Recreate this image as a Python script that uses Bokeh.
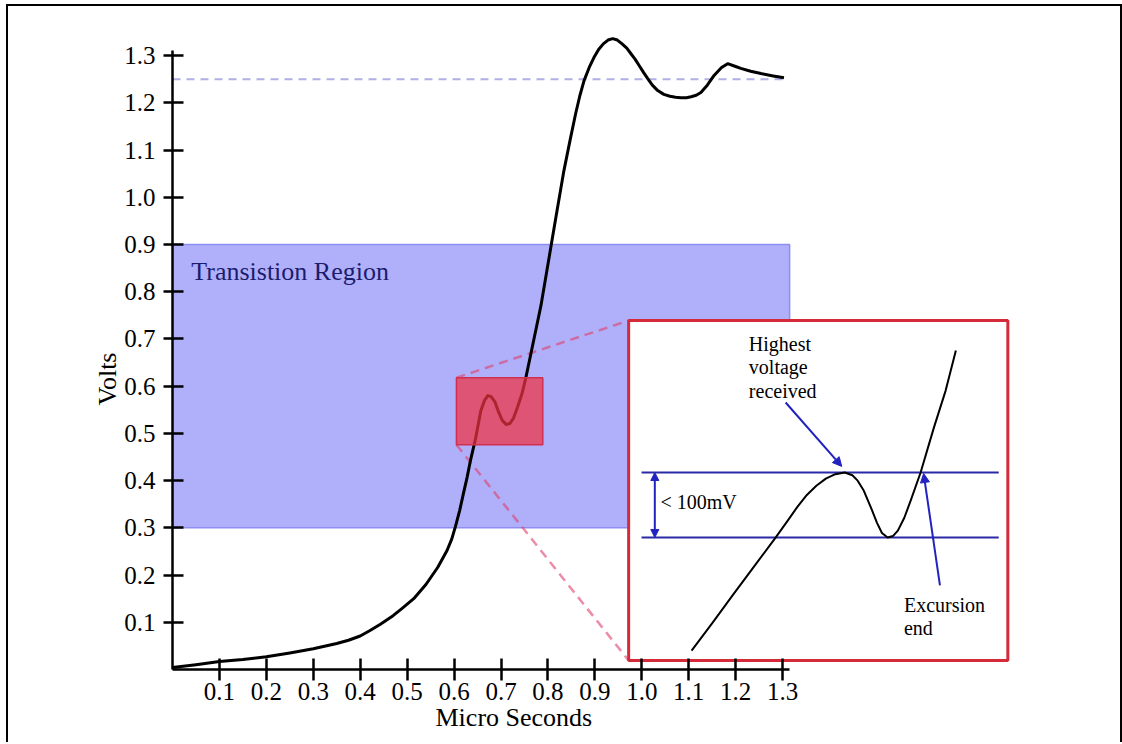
from bokeh.plotting import figure
from bokeh.models import (FixedTicker, NumeralTickFormatter, Arrow, NormalHead,
                          Range1d, Title)
from bokeh.core.properties import value
from bokeh.embed import file_html
from bokeh.resources import INLINE

# ---------------- data ----------------
time_us = [0.0, 0.05, 0.1, 0.15, 0.2, 0.25, 0.3, 0.35, 0.375, 0.4, 0.42, 0.443,
           0.47, 0.49, 0.514, 0.54, 0.565, 0.585, 0.595, 0.603, 0.612, 0.62,
           0.628, 0.635, 0.646, 0.657, 0.665, 0.672, 0.679, 0.687, 0.695, 0.703,
           0.711, 0.719, 0.727, 0.735, 0.745, 0.753, 0.765, 0.785, 0.806, 0.82,
           0.834, 0.847, 0.859, 0.868, 0.877, 0.888, 0.898, 0.908, 0.918, 0.928,
           0.938, 0.948, 0.958, 0.968, 0.977, 0.986, 0.995, 1.004, 1.013, 1.023,
           1.034, 1.047, 1.06, 1.072, 1.083, 1.095, 1.105, 1.116, 1.126, 1.14,
           1.154, 1.17, 1.183, 1.2, 1.211, 1.232, 1.254, 1.28, 1.303]
volts = [0.004, 0.010, 0.017, 0.021, 0.027, 0.035, 0.044, 0.055, 0.062, 0.071,
         0.082, 0.096, 0.114, 0.130, 0.150, 0.180, 0.216, 0.252, 0.276, 0.303,
         0.337, 0.373, 0.408, 0.443, 0.490, 0.548, 0.570, 0.580, 0.578, 0.567,
         0.545, 0.527, 0.519, 0.521, 0.533, 0.555, 0.585, 0.618, 0.675, 0.770,
         0.893, 0.975, 1.056, 1.120, 1.177, 1.215, 1.247, 1.275, 1.296, 1.313,
         1.325, 1.333, 1.336, 1.333, 1.325, 1.316, 1.304, 1.292, 1.278, 1.264,
         1.251, 1.237, 1.226, 1.218, 1.214, 1.212, 1.211, 1.211, 1.213, 1.216,
         1.222, 1.238, 1.258, 1.275, 1.283, 1.277, 1.273, 1.267, 1.262, 1.257,
         1.253]

x_ticks = [0.1, 0.2, 0.3, 0.4, 0.5, 0.6, 0.7, 0.8, 0.9, 1.0, 1.1, 1.2, 1.3]
y_ticks = [0.1, 0.2, 0.3, 0.4, 0.5, 0.6, 0.7, 0.8, 0.9, 1.0, 1.1, 1.2, 1.3]
x_title = "Micro Seconds"
y_title = "Volts"

settle_x = [0.0, 1.30]
settle_v = [1.25, 1.25]

region_x = [0.0, 1.315]
region_v = [0.30, 0.90]
region_label = "Transistion Region"
region_label_pos = (0.04, 0.843)

zoom_x = [0.605, 0.789]
zoom_v = [0.476, 0.618]

inset_x = [0.972, 1.780]
inset_v = [0.019, 0.739]

# inset (magnified sketch) in normalized inset coordinates (0..1 across the panel)
inset_u = [0.166, 0.222, 0.277, 0.333, 0.388, 0.420, 0.445, 0.470, 0.495, 0.520,
           0.545, 0.570, 0.590, 0.604, 0.620, 0.639, 0.655, 0.668, 0.683, 0.697,
           0.710, 0.727, 0.744, 0.770, 0.805, 0.836, 0.863]
inset_w = [0.029, 0.112, 0.196, 0.280, 0.362, 0.412, 0.452, 0.487, 0.514, 0.535,
           0.548, 0.553, 0.545, 0.529, 0.500, 0.450, 0.405, 0.375, 0.362, 0.366,
           0.382, 0.420, 0.471, 0.553, 0.685, 0.794, 0.912]
band_u = [0.034, 0.976]
band_hi = 0.553
band_lo = 0.362
range_arrow_u = 0.069
range_label = "< 100mV"
range_label_pos = (0.084, 0.465)
peak_label = ["Highest", "voltage", "received"]
peak_label_u = 0.317
peak_label_w = [0.932, 0.862, 0.794]
peak_arrow = [(0.414, 0.759), (0.562, 0.571)]
end_label = ["Excursion", "end"]
end_label_u = 0.726
end_label_w = [0.162, 0.097]
end_arrow = [(0.821, 0.221), (0.778, 0.550)]


def ix(u):
    return inset_x[0] + u * (inset_x[1] - inset_x[0])


def iy(w):
    return inset_v[0] + w * (inset_v[1] - inset_v[0])


FONT = "Liberation Serif"

p = figure(width=1112, height=736,
           x_range=Range1d(0, 1.807), y_range=Range1d(0, 1.349),
           output_backend="svg", toolbar_location=None,
           min_border_left=164, min_border_right=100,
           min_border_top=26, min_border_bottom=73)
p.styles = {
    "margin-left": "8px",
    "margin-top": "6px",
    "box-shadow": ("-2px 0 0 0 black, 2px 0 0 0 black, 0 -2px 0 0 black, "
                   "-2px -2px 0 0 black, 2px -2px 0 0 black"),
}
p.grid.visible = False
p.outline_line_color = None
p.background_fill_color = "white"
p.border_fill_color = "white"

for ax, ticks in ((p.xaxis[0], x_ticks), (p.yaxis[0], y_ticks)):
    ax.ticker = FixedTicker(ticks=ticks)
    ax.formatter = NumeralTickFormatter(format="0.0")
    ax.axis_line_width = 2.5
    ax.axis_line_color = "black"
    ax.major_tick_line_width = 2.5
    ax.major_tick_line_color = "black"
    ax.minor_tick_line_color = None
    ax.major_label_text_font = FONT
    ax.major_label_text_font_size = "25px"
    ax.major_label_text_color = "black"

p.xaxis.bounds = (0, 1.315)
p.yaxis.bounds = (0, 1.31)
p.xaxis.major_tick_in = 11
p.xaxis.major_tick_out = 11
p.xaxis.major_label_standoff = 2
p.yaxis.major_tick_in = 11
p.yaxis.major_tick_out = 9
p.yaxis.major_label_standoff = 8

# axis titles (placed in the side panels next to the axes)
p.add_layout(Title(text=x_title, align="left", offset=263, vertical_align="top",
                   standoff=0, text_font=FONT, text_font_size="26px",
                   text_font_style="normal", text_color="black"), "below")
p.add_layout(Title(text=y_title, align="left", offset=264, vertical_align="bottom",
                   standoff=0, text_font=FONT, text_font_size="26px",
                   text_font_style="normal", text_color="black"), "left")

# transition region
p.quad(left=[region_x[0]], right=[region_x[1]], bottom=[region_v[0]], top=[region_v[1]],
       fill_color="#b0b0fa", line_color="#8e8ef2", line_width=1.5)
p.text(x=[region_label_pos[0]], y=[region_label_pos[1]], text=[region_label],
       text_font=value(FONT), text_font_size="26px", text_color="#1c1c6e",
       text_baseline="middle", text_align="left")

# settled level
p.line(settle_x, settle_v, line_color="#b0b0e4", line_width=2, line_dash="8 6")

# connectors from zoom box to inset
p.line([zoom_x[0], inset_x[0]], [zoom_v[1], inset_v[1]], line_color="#e0406a",
       line_alpha=0.6, line_width=2.5, line_dash="9 6")
p.line([zoom_x[0], inset_x[0]], [zoom_v[0], inset_v[0]], line_color="#e0406a",
       line_alpha=0.6, line_width=2.5, line_dash="9 6")

# main trace
p.line(time_us, volts, line_color="black", line_width=3, line_join="round")

# zoom box
p.quad(left=[zoom_x[0]], right=[zoom_x[1]], bottom=[zoom_v[0]], top=[zoom_v[1]],
       fill_color="#f03040", fill_alpha=0.72, line_color="#d03050", line_width=1.5)

# inset panel
p.quad(left=[inset_x[0]], right=[inset_x[1]], bottom=[inset_v[0]], top=[inset_v[1]],
       fill_color="white", line_color="#d42a3a", line_width=3)
for lvl in (band_hi, band_lo):
    p.line([ix(u) for u in band_u], [iy(lvl), iy(lvl)], line_color="#2a2aa8", line_width=2)
p.line([ix(u) for u in inset_u], [iy(w) for w in inset_w], line_color="black",
       line_width=2, line_join="round")

arrow_color = "#2222c0"
p.add_layout(Arrow(x_start=ix(range_arrow_u), y_start=iy(band_lo),
                   x_end=ix(range_arrow_u), y_end=iy(band_hi),
                   start=NormalHead(size=8, fill_color=arrow_color, line_color=arrow_color),
                   end=NormalHead(size=8, fill_color=arrow_color, line_color=arrow_color),
                   line_color=arrow_color, line_width=2))
for (s, e) in (peak_arrow, end_arrow):
    p.add_layout(Arrow(x_start=ix(s[0]), y_start=iy(s[1]), x_end=ix(e[0]), y_end=iy(e[1]),
                       end=NormalHead(size=9, fill_color=arrow_color, line_color=arrow_color),
                       line_color=arrow_color, line_width=2))

p.text(x=[ix(range_label_pos[0])], y=[iy(range_label_pos[1])], text=[range_label],
       text_font=value(FONT), text_font_size="20px", text_color="black",
       text_baseline="middle", text_align="left")
p.text(x=[ix(peak_label_u)] * len(peak_label), y=[iy(w) for w in peak_label_w],
       text=peak_label, text_font=value(FONT), text_font_size="20px",
       text_color="black", text_baseline="middle", text_align="left")
p.text(x=[ix(end_label_u)] * len(end_label), y=[iy(w) for w in end_label_w],
       text=end_label, text_font=value(FONT), text_font_size="20px",
       text_color="black", text_baseline="middle", text_align="left")

open("out.html", "w").write(file_html(p, INLINE))
